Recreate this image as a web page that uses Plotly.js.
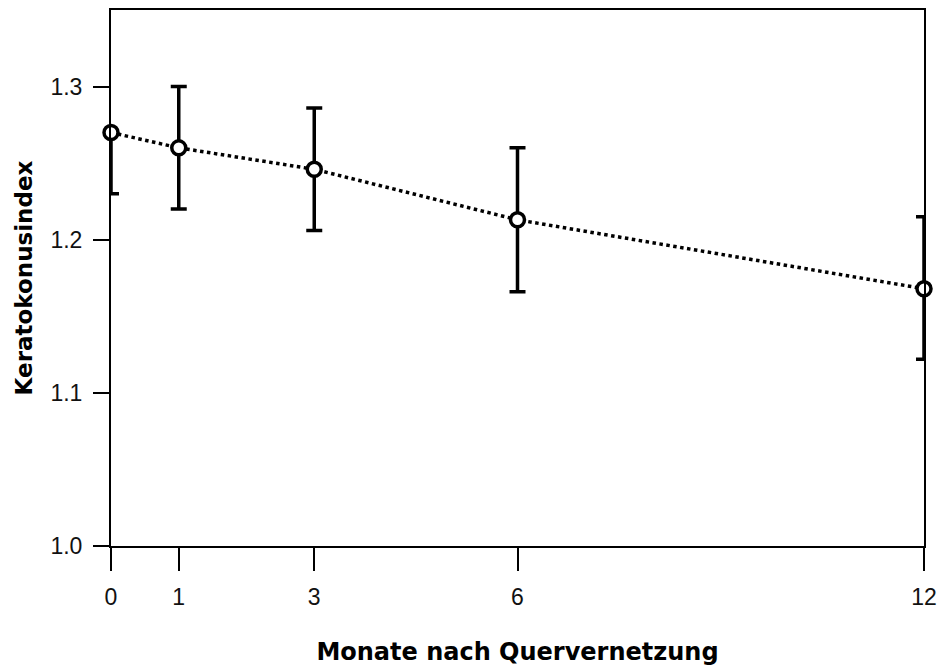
<!DOCTYPE html>
<html>
<head>
<meta charset="utf-8">
<script src="https://cdn.plot.ly/plotly-3.0.1.min.js"></script>
<style>html,body{margin:0;padding:0;background:#fff;}#chart{width:943px;height:670px;}</style>
</head>
<body>
<div id="chart"></div>
<script>
const months = [0, 1, 3, 6, 12];
const meanIndex = [1.270, 1.260, 1.246, 1.213, 1.168];
const errUpper = [0, 0.040, 0.040, 0.047, 0.047];
const errLower = [0.040, 0.040, 0.040, 0.047, 0.046];
const tickVals = [0, 1, 3, 6, 12];
const tickText = ['0', '1', '3', '6', '12'];
const yTicks = [1.0, 1.1, 1.2, 1.3];
const yTickText = ['1.0', '1.1', '1.2', '1.3'];

const tickFam = '"Liberation Sans", Arial, sans-serif';
const titleFam = '"DejaVu Sans", Verdana, sans-serif';

const trace = {
  x: months,
  y: meanIndex,
  type: 'scatter',
  mode: 'lines+markers',
  cliponaxis: false,
  line: {color: '#000', width: 3.5, dash: 'dot'},
  marker: {symbol: 'circle', size: 14, color: '#fff', line: {color: '#000', width: 3.5}},
  error_y: {
    type: 'data', symmetric: false,
    array: errUpper, arrayminus: errLower,
    color: '#000', thickness: 3.5, width: 8
  },
  showlegend: false
};

const layout = {
  width: 943, height: 670,
  margin: {l: 111, r: 19, t: 10, b: 124},
  paper_bgcolor: '#fff', plot_bgcolor: '#fff',
  font: {family: tickFam, color: '#111'},
  xaxis: {
    range: [0, 12],
    tickvals: tickVals, ticktext: tickText,
    ticks: 'outside', ticklen: 23, tickwidth: 2, tickcolor: '#000',
    showline: true, linecolor: '#000', linewidth: 2, mirror: true,
    showgrid: false, zeroline: false,
    tickfont: {size: 23, family: tickFam, color: '#111'},
    ticklabelstandoff: 6,
    title: {text: 'Monate nach Quervernetzung', font: {size: 24, family: titleFam, color: '#000', weight: 'bold'}, standoff: 35}
  },
  yaxis: {
    range: [1.0, 1.35],
    tickvals: yTicks, ticktext: yTickText,
    ticks: 'outside', ticklen: 16, tickwidth: 2, tickcolor: '#000',
    showline: true, linecolor: '#000', linewidth: 2, mirror: true,
    showgrid: false, zeroline: false,
    tickfont: {size: 23, family: tickFam, color: '#111'},
    ticklabelstandoff: 6,
    title: {text: 'Keratokonusindex', font: {size: 23, family: titleFam, color: '#000', weight: 'bold'}, standoff: 11}
  }
};

Plotly.newPlot('chart', [trace], layout, {displayModeBar: false, staticPlot: true});
</script>
</body>
</html>
